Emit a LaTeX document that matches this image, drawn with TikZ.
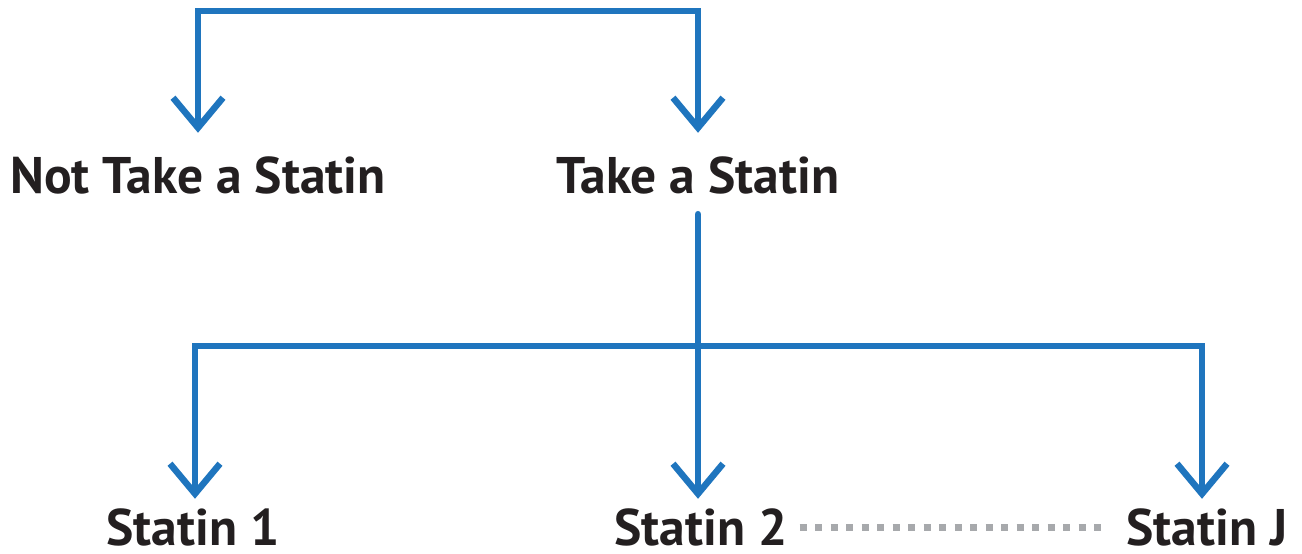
\documentclass[tikz,border=0pt]{standalone}
\usepackage{fontspec}
\setmainfont{PT Sans}
\usetikzlibrary{arrows.meta}
\definecolor{branch}{HTML}{1F75BE}
\definecolor{dotgray}{HTML}{A7A9AC}
\definecolor{ink}{HTML}{231F20}

\begin{document}
\begin{tikzpicture}[x=1pt,y=1pt,
  choice/.style={font=\fontsize{51.5}{56}\selectfont\bfseries,text=ink,inner sep=0pt,anchor=base,text height=36pt,text depth=0pt},
  branchline/.style={draw=branch,line width=6.5pt,line join=miter},
  chev/.tip={Straight Barb[sharp,length=30pt,width=50pt]}]
  \useasboundingbox (0,0) rectangle (1302,554);
  % first choice
  \node[choice] (nottake) at (198,360) {Not Take a Statin};
  \node[choice] (take) at (698,360) {Take a Statin};
  \coordinate (topbar) at (450,543);
  \draw[branchline,chev-chev,shorten <=25pt,shorten >=25pt] (nottake.north) |- (topbar) -| (take.north);
  % which statin
  \node[choice] (s1) at (193,8) {Statin 1};
  \node[choice] (s2) at (701,8) {Statin 2};
  \node[choice] (sJ) at (1207,8) {Statin J};
  \coordinate (midbar) at (698,208);
  \draw[branchline,-chev,line cap=round,shorten <=20pt,shorten >=11pt] (take.south) -- (take.south |- s2.north);
  \draw[branchline,chev-chev,shorten <=11pt,shorten >=11pt] ([xshift=2pt]s1.north) |- (midbar) -| ([xshift=-5pt]sJ.north);
  \draw[dotgray,line width=7pt,dash pattern=on 7pt off 8.5pt,shorten <=12pt,shorten >=19pt] (s2.east) -- (sJ.west);
\end{tikzpicture}
\end{document}
